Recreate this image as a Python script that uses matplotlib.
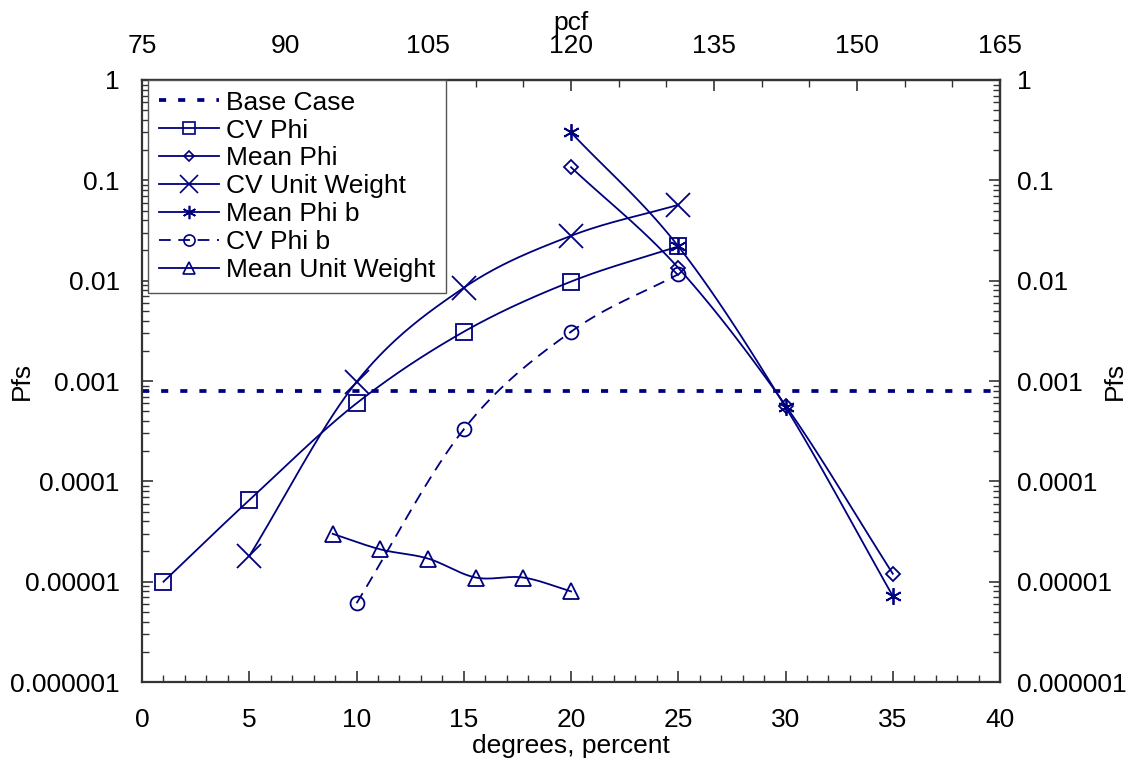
"""
Probability of failure (Pfs) versus the varied input parameter.

Each series is drawn with a smoothed line in log space plus open markers,
the base case Pfs is a dashed horizontal line, and the unit weight is
read on the top pcf axis.
"""

import matplotlib

matplotlib.use("Agg")
import matplotlib.pyplot as plt
import numpy as np
from matplotlib.ticker import FixedLocator, FuncFormatter, LogLocator, MultipleLocator

plt.rcParams["font.family"] = ["Liberation Sans", "DejaVu Sans"]

NAVY = "#00007f"
FS = 19

# base case probability of failure
base_case = 0.0008

# degrees / percent on the bottom axis
cv_phi_x = [1, 5, 10, 15, 20, 25]
cv_phi_y = [1.0e-5, 6.5e-5, 6.0e-4, 3.1e-3, 9.8e-3, 0.022]

mean_phi_x = [20, 25, 30, 35]
mean_phi_y = [0.135, 0.0134, 5.7e-4, 1.2e-5]

cv_uw_x = [5, 10, 15, 20, 25]
cv_uw_y = [1.8e-5, 9.8e-4, 8.5e-3, 0.028, 0.057]

mean_phib_x = [20, 25, 30, 35]
mean_phib_y = [0.30, 0.022, 5.5e-4, 7.2e-6]

cv_phib_x = [10, 15, 20, 25]
cv_phib_y = [6.1e-6, 3.3e-4, 3.1e-3, 0.0116]

# mean unit weight is given in pcf (top axis)
mean_uw_pcf = [95, 100, 105, 110, 115, 120]
mean_uw_y = [3.0e-5, 2.1e-5, 1.7e-5, 1.1e-5, 1.1e-5, 8.0e-6]

y_ticks = [1e-6, 1e-5, 1e-4, 1e-3, 1e-2, 1e-1, 1]
y_tick_labels = ["0.000001", "0.00001", "0.0001", "0.001", "0.01", "0.1", "1"]
pcf_ticks = [75, 90, 105, 120, 135, 150, 165]


def pcf_to_deg(p):
    """Map pcf onto the bottom axis scale."""
    return (np.asarray(p, float) - 75.0) / 2.25


def deg_to_pcf(d):
    """Map the bottom axis scale onto pcf."""
    return 75.0 + 2.25 * np.asarray(d, float)


def smooth(x, y, n=40):
    """Catmull-Rom curve through the points, in (x, log10 y)."""
    pts = np.column_stack([np.asarray(x, float), np.log10(y)])
    p = np.vstack([2 * pts[0] - pts[1], pts, 2 * pts[-1] - pts[-2]])
    t = np.linspace(0, 1, n)[:, None]
    segs = []
    for i in range(1, len(p) - 2):
        p0, p1, p2, p3 = p[i - 1], p[i], p[i + 1], p[i + 2]
        seg = 0.5 * (
            2 * p1
            + (-p0 + p2) * t
            + (2 * p0 - 5 * p1 + 4 * p2 - p3) * t**2
            + (-p0 + 3 * p1 - 3 * p2 + p3) * t**3
        )
        segs.append(seg)
    c = np.vstack(segs)
    return c[:, 0], 10 ** c[:, 1]


def pfs_label(v, pos):
    return dict(zip(y_ticks, y_tick_labels)).get(v, "")


fig = plt.figure(figsize=(11.3, 7.59), dpi=100)
ax = fig.add_axes([0.1257, 0.1014, 0.7593, 0.7932])

series = [
    ("CV Phi", cv_phi_x, cv_phi_y, "s", 11, "-"),
    ("Mean Phi", mean_phi_x, mean_phi_y, "D", 7, "-"),
    ("CV Unit Weight", cv_uw_x, cv_uw_y, "x", 17, "-"),
    ("Mean Phi b", mean_phib_x, mean_phib_y, (6, 2, 0), 12, "-"),
    ("CV Phi b", cv_phib_x, cv_phib_y, "o", 10, "--"),
    ("Mean Unit Weight", pcf_to_deg(mean_uw_pcf), mean_uw_y, "^", 11, "-"),
]

handles = []
base = ax.axhline(base_case, color=NAVY, lw=2.7, dashes=(1.9, 3.2), label="Base Case")
handles.append(base)

for name, xs, ys, mk, ms, ls in series:
    sx, sy = smooth(xs, ys)
    line_kw = dict(color=NAVY, lw=1.3)
    if ls == "--":
        line_kw["dashes"] = (6.5, 4.2)
    ax.plot(sx, sy, **line_kw)
    ax.plot(xs, ys, ls="none", marker=mk, ms=ms, mfc="none", mec=NAVY, mew=1.3)
    # proxy for the legend: line through a smaller marker
    (h,) = ax.plot([], [], marker=mk, ms=ms * 0.8, mfc="none", mec=NAVY,
                   mew=1.2, label=name, **line_kw)
    handles.append(h)

ax.set_yscale("log")
ax.set_xlim(0, 40)
ax.set_ylim(1e-6, 1)

ax.xaxis.set_major_locator(MultipleLocator(5))
ax.xaxis.set_minor_locator(MultipleLocator(1))
ax.yaxis.set_major_locator(FixedLocator(y_ticks))
ax.yaxis.set_major_formatter(FuncFormatter(pfs_label))
ax.yaxis.set_minor_locator(LogLocator(base=10, subs=np.arange(2, 10)))
ax.yaxis.set_minor_formatter(FuncFormatter(lambda v, pos: ""))

ax.tick_params(axis="both", which="both", direction="in", labelsize=FS,
               color="#333333")
ax.tick_params(axis="x", which="major", length=8, width=1.2, pad=19)
ax.tick_params(axis="x", which="minor", length=5, width=1.0)
ax.tick_params(axis="y", which="major", length=8, width=1.2, pad=16,
               left=True, right=True)
ax.tick_params(axis="y", which="minor", length=5, width=1.0, left=True, right=True)

for s in ax.spines.values():
    s.set_color("#333333")
    s.set_linewidth(1.6)

ax.set_xlabel("degrees, percent", fontsize=FS, labelpad=1)
ax.text(-0.14, 0.5, "Pfs", transform=ax.transAxes, rotation=90,
        ha="center", va="center", fontsize=FS)
ax.text(1.134, 0.5, "Pfs", transform=ax.transAxes, rotation=90,
        ha="center", va="center", fontsize=FS)

# top axis: unit weight in pcf
top = ax.secondary_xaxis("top", functions=(deg_to_pcf, pcf_to_deg))
top.xaxis.set_major_locator(FixedLocator(pcf_ticks))
top.xaxis.set_minor_locator(MultipleLocator(5))
top.tick_params(axis="x", which="both", direction="in", labelsize=FS,
                color="#333333")
top.tick_params(axis="x", which="major", length=8, width=1.2, pad=16)
top.tick_params(axis="x", which="minor", length=5, width=1.0)
top.set_xlabel("pcf", fontsize=FS, labelpad=3)
top.spines["top"].set_color("#333333")
top.spines["top"].set_linewidth(1.6)

# right axis repeats the Pfs tick labels
right = ax.secondary_yaxis("right", functions=(lambda v: v, lambda v: v))
right.yaxis.set_major_locator(FixedLocator(y_ticks))
right.yaxis.set_major_formatter(FuncFormatter(pfs_label))
right.yaxis.set_minor_locator(LogLocator(base=10, subs=np.arange(2, 10)))
right.yaxis.set_minor_formatter(FuncFormatter(lambda v, pos: ""))
right.tick_params(axis="y", which="both", direction="in", labelsize=FS,
                  color="#333333", length=0, pad=12)
right.spines["right"].set_color("#333333")
right.spines["right"].set_linewidth(1.6)

leg = ax.legend(
    handles=handles,
    loc="upper left",
    bbox_to_anchor=(0.007, 1.0),
    borderaxespad=0,
    fontsize=FS,
    frameon=True,
    fancybox=False,
    framealpha=1,
    edgecolor="#555555",
    handlelength=2.3,
    handletextpad=0.25,
    labelspacing=0.15,
    borderpad=0.4,
)
leg.get_frame().set_linewidth(1.0)
leg.set_zorder(10)

fig.savefig("out.png", dpi=100)
